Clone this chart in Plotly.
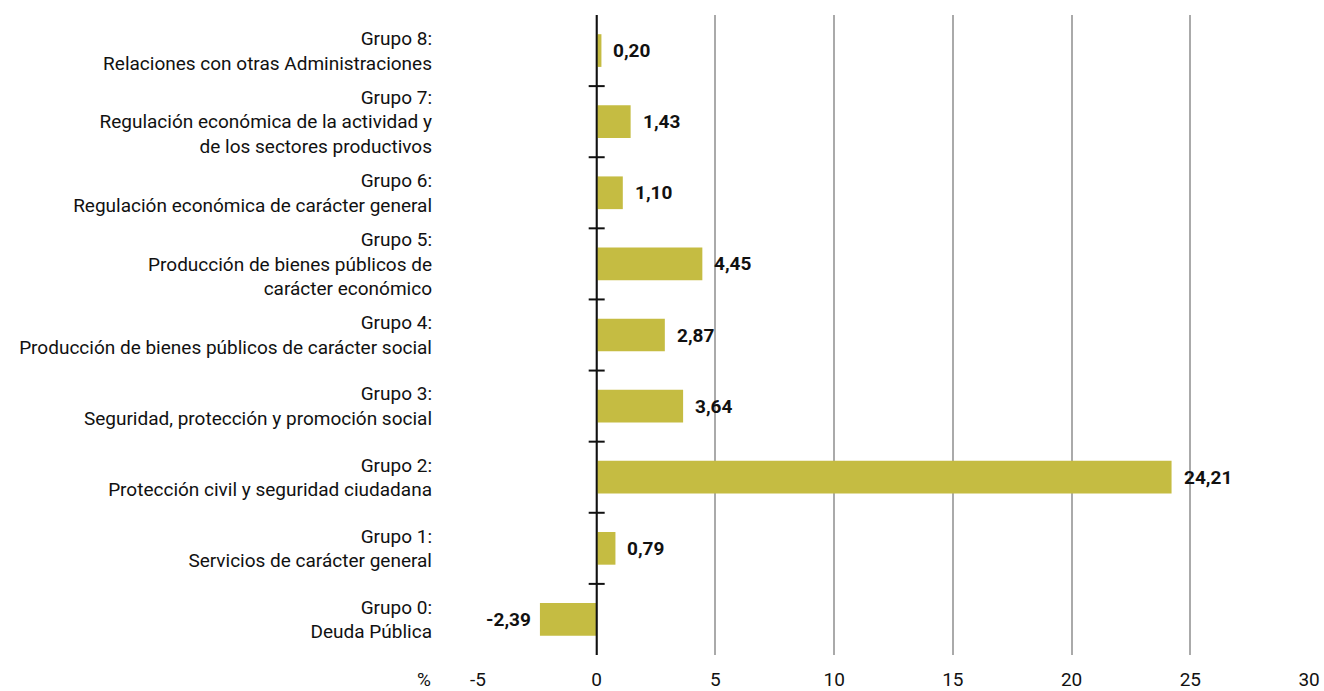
import plotly.graph_objects as go

categories = [
    "Grupo 0:<br>Deuda Pública",
    "Grupo 1:<br>Servicios de carácter general",
    "Grupo 2:<br>Protección civil y seguridad ciudadana",
    "Grupo 3:<br>Seguridad, protección y promoción social",
    "Grupo 4:<br>Producción de bienes públicos de carácter social",
    "Grupo 5:<br>Producción de bienes públicos de<br>carácter económico",
    "Grupo 6:<br>Regulación económica de carácter general",
    "Grupo 7:<br>Regulación económica de la actividad y<br>de los sectores productivos",
    "Grupo 8:<br>Relaciones con otras Administraciones",
]
values = [-2.39, 0.79, 24.21, 3.64, 2.87, 4.45, 1.10, 1.43, 0.20]
x_ticks = [-5, 0, 5, 10, 15, 20, 25, 30]

FONT = "Roboto"
BAR = "#C5BC42"

ypos = list(range(len(categories)))
labels = [f"{v:.2f}".replace(".", ",") for v in values]

fig = go.Figure()
fig.add_trace(go.Bar(
    x=values, y=ypos, orientation="h", width=0.46,
    marker=dict(color=BAR, line=dict(width=0)),
    hoverinfo="skip",
))

shapes = []
for i in range(len(categories) - 1):
    shapes.append(dict(
        type="line", xref="x", yref="y", xsizemode="pixel", xanchor=0,
        x0=-8, x1=8, y0=i + 0.5, y1=i + 0.5,
        line=dict(color="#111111", width=2), layer="above",
    ))
shapes.append(dict(
    type="line", xref="x", yref="paper", x0=0, x1=0, y0=0, y1=1,
    line=dict(color="#111111", width=2), layer="above",
))

annotations = []
for v, y, t in zip(values, ypos, labels):
    annotations.append(dict(
        x=v, y=y, xref="x", yref="y", text=t, showarrow=False,
        xanchor="left" if v >= 0 else "right",
        xshift=10 if v >= 0 else -7,
        font=dict(family=FONT, size=19, color="#111111", weight="bold"),
    ))
annotations.append(dict(
    text="%", xref="paper", yref="paper", x=-0.053, y=0,
    xanchor="right", yanchor="top", yshift=-11, showarrow=False,
    font=dict(family=FONT, size=19, color="#111111"),
))

fig.update_layout(
    width=1324, height=691,
    margin=dict(l=477, r=14, t=15, b=36),
    paper_bgcolor="white", plot_bgcolor="white",
    showlegend=False,
    font=dict(family=FONT, size=19, color="#111111"),
    shapes=shapes,
    annotations=annotations,
    xaxis=dict(
        range=[-5.04, 30.04], tickmode="array", tickvals=x_ticks,
        ticktext=[str(t) for t in x_ticks],
        showgrid=True, gridcolor="#AAAAAA", gridwidth=2,
        zeroline=False, showline=False, ticks="",
        ticklabelstandoff=11, automargin=False,
        tickfont=dict(family=FONT, size=19, color="#111111"),
        fixedrange=True,
    ),
    yaxis=dict(
        range=[-0.5, len(categories) - 0.5], tickmode="array",
        tickvals=ypos, ticktext=categories,
        showgrid=False, zeroline=False, showline=False, ticks="",
        ticklabelstandoff=44, automargin=False,
        tickfont=dict(family=FONT, size=19, color="#111111"),
        fixedrange=True,
    ),
)

fig.write_html(
    "out.html",
    config={"displayModeBar": False},
    post_script="document.body.style.margin='0';document.body.style.overflow='hidden';",
)
